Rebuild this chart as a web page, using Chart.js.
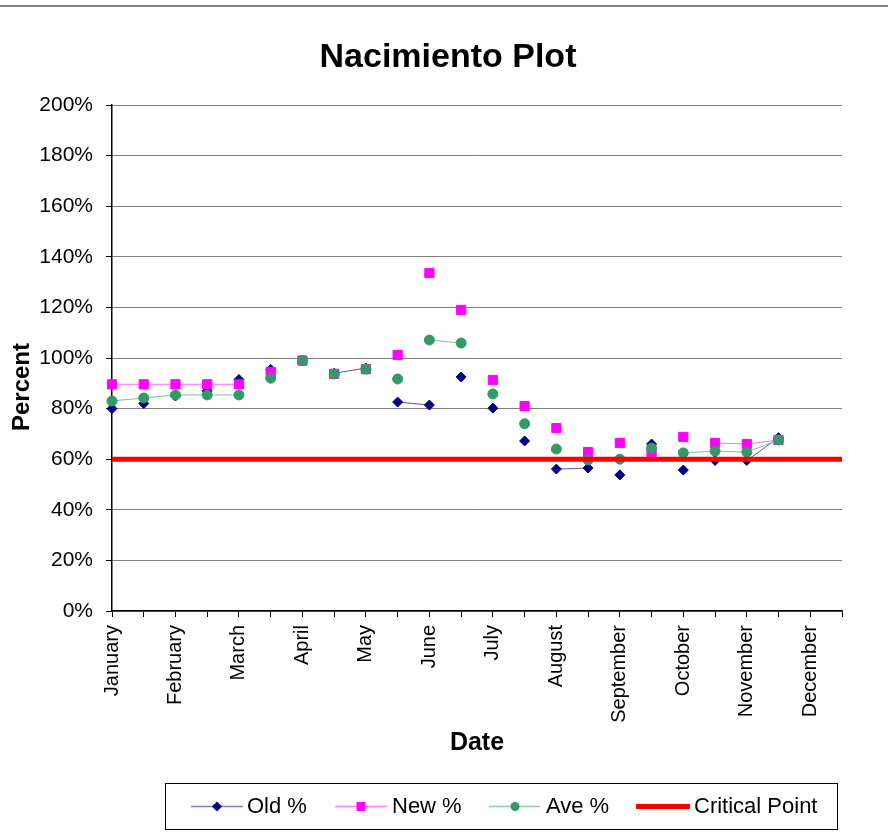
<!DOCTYPE html>
<html>
<head>
<meta charset="utf-8">
<script src="https://cdn.jsdelivr.net/npm/chart.js@4"></script>
<style>
html, body { margin: 0; padding: 0; background: #fff; }
</style>
</head>
<body>
<canvas id="myChart" width="888" height="836"></canvas>
<script>
// x categories: half-month steps, only every other one is labelled
var dates = ["January", "", "February", "", "March", "", "April", "", "May", "", "June", "",
             "July", "", "August", "", "September", "", "October", "", "November", "", "December", ""];
var oldPct = [80, 82, 85, 87, 91.5, 95.5, 99, 94, 96, 82.6, 81.4, 92.5,
              80.2, 67.2, 56.1, 56.5, 53.8, 66, 55.7, 59.5, 59.5, 68.5, null, null];
var newPct = [89.6, 89.6, 89.6, 89.6, 89.6, 94.5, 99, 93.7, 95.6, 101.2, 133.6, 119,
              91.3, 81, 72.3, 62.8, 66.4, 62.8, 68.8, 66.4, 66, 67.6, null, null];
var avePct = [83, 84.2, 85.4, 85.4, 85.4, 92, 99, 93.7, 95.6, 91.7, 107.1, 105.9,
              85.8, 74, 64, 59.7, 60, 64.4, 62.5, 63.2, 62.8, 67.6, null, null];
var critical = [60, 60, 60, 60, 60, 60, 60, 60, 60, 60, 60, 60,
                60, 60, 60, 60, 60, 60, 60, 60, 60, 60, 60, 60];
// index of the first point of every segment that is actually joined by a line
var oldLinks = [7, 9, 14, 19, 20];
var newLinks = [0, 1, 2, 3, 19, 20];
var aveLinks = [0, 1, 2, 3, 10, 18, 19, 20];

var FONT = "'Liberation Sans', Arial, sans-serif";

function linked(list, color) {
  return function (ctx) {
    return list.indexOf(ctx.p0DataIndex) >= 0 ? color : 'rgba(0,0,0,0)';
  };
}

// white page + the thin gray rule along the top
var backdrop = {
  id: 'backdrop',
  beforeDraw: function (chart) {
    var c = chart.ctx;
    c.save();
    c.fillStyle = '#fff';
    c.fillRect(0, 0, chart.width, chart.height);
    c.fillStyle = '#808080';
    c.fillRect(0, 5, chart.width, 2);
    c.restore();
  }
};

// title and y title sit where Excel puts them (centred on the whole picture)
var texts = {
  id: 'texts',
  afterDraw: function (chart) {
    var c = chart.ctx;
    c.save();
    c.fillStyle = '#000';
    c.textAlign = 'center';
    c.textBaseline = 'middle';
    c.font = 'bold 34px ' + FONT;
    c.fillText('Nacimiento Plot', 448, 58);
    c.translate(22, 387);
    c.rotate(-Math.PI / 2);
    c.font = 'bold 24px ' + FONT;
    c.fillText('Percent', 0, 0);
    c.restore();
  }
};

// Excel style legend: boxed, line sample with marker in the middle
var boxLegend = {
  id: 'boxLegend',
  afterDraw: function (chart) {
    var c = chart.ctx;
    var y = 806.5;
    c.save();
    c.strokeStyle = '#000';
    c.lineWidth = 1;
    c.strokeRect(165.5, 783.5, 672, 46);
    c.font = '22px ' + FONT;
    c.textBaseline = 'middle';
    c.fillStyle = '#000';

    c.strokeStyle = '#8080c0';
    c.lineWidth = 1.5;
    c.beginPath(); c.moveTo(191, y); c.lineTo(243, y); c.stroke();
    c.fillStyle = '#000080';
    c.beginPath(); c.moveTo(217, y - 5); c.lineTo(222, y); c.lineTo(217, y + 5); c.lineTo(212, y); c.closePath(); c.fill();
    c.fillStyle = '#000';
    c.fillText('Old %', 247, y);

    c.strokeStyle = '#ff80ff';
    c.beginPath(); c.moveTo(335, y); c.lineTo(387, y); c.stroke();
    c.fillStyle = '#ff00ff';
    c.fillRect(356.5, y - 4.5, 9, 9);
    c.fillStyle = '#000';
    c.fillText('New %', 392, y);

    c.strokeStyle = '#90c8aa';
    c.beginPath(); c.moveTo(489, y); c.lineTo(540, y); c.stroke();
    c.fillStyle = '#339966';
    c.beginPath(); c.arc(515, y, 4.5, 0, Math.PI * 2); c.fill();
    c.fillStyle = '#000';
    c.fillText('Ave %', 546, y);

    c.strokeStyle = '#ff0000';
    c.lineWidth = 5;
    c.beginPath(); c.moveTo(636, y); c.lineTo(690, y); c.stroke();
    c.fillStyle = '#000';
    c.fillText('Critical Point', 694, y);
    c.restore();
  }
};

new Chart("myChart", {
  type: "line",
  data: {
    labels: dates,
    datasets: [{
      label: "Old %",
      data: oldPct,
      order: 4,
      borderColor: '#5a5aa8',
      borderWidth: 1,
      backgroundColor: '#000080',
      pointBackgroundColor: '#000080',
      pointBorderColor: '#000080',
      pointStyle: 'rectRot',
      pointRadius: 5,
      pointBorderWidth: 1,
      segment: { borderColor: linked(oldLinks, '#5a5aa8') }
    }, {
      label: "New %",
      data: newPct,
      order: 3,
      borderColor: '#ff70ff',
      borderWidth: 1,
      backgroundColor: '#ff00ff',
      pointBackgroundColor: '#ff00ff',
      pointBorderColor: '#ff00ff',
      pointStyle: 'rect',
      pointRadius: 6.5,
      pointBorderWidth: 1,
      segment: { borderColor: linked(newLinks, '#ff70ff') }
    }, {
      label: "Ave %",
      data: avePct,
      order: 2,
      borderColor: '#7fbf9c',
      borderWidth: 1,
      backgroundColor: '#339966',
      pointBackgroundColor: '#339966',
      pointBorderColor: '#339966',
      pointStyle: 'circle',
      pointRadius: 5,
      pointBorderWidth: 1,
      segment: { borderColor: linked(aveLinks, '#7fbf9c') }
    }, {
      label: "Critical Point",
      data: critical,
      order: 1,
      borderColor: '#ff0000',
      borderWidth: 5,
      pointRadius: 0
    }]
  },
  options: {
    responsive: false,
    animation: false,
    devicePixelRatio: 1,
    layout: { padding: { left: 0, right: 46, top: 105, bottom: 75 } },
    plugins: {
      legend: { display: false },
      tooltip: { enabled: false },
      title: { display: false }
    },
    scales: {
      x: {
        offset: false,
        afterFit: function (scale) { scale.height = 150; },
        grid: { drawOnChartArea: false, drawTicks: true, tickLength: 6, tickColor: '#000', tickWidth: 1 },
        border: { color: '#000', width: 1.5 },
        ticks: {
          autoSkip: false, maxRotation: 90, minRotation: 90, padding: 8,
          color: '#000', font: { family: FONT, size: 20 }
        },
        title: {
          display: true, text: "Date", color: '#000',
          font: { family: FONT, size: 25, weight: 'bold' },
          padding: { top: 0, bottom: 3 }
        }
      },
      y: {
        min: 0,
        max: 200,
        afterFit: function (scale) { scale.width = 112; },
        grid: { color: '#808080', lineWidth: 1, tickLength: 6, tickColor: '#000' },
        border: { color: '#000', width: 1.5 },
        ticks: {
          stepSize: 20, padding: 13, color: '#000',
          font: { family: FONT, size: 21 },
          callback: function (v) { return v + '%'; }
        }
      }
    }
  },
  plugins: [backdrop, texts, boxLegend]
});
</script>
</body>
</html>
